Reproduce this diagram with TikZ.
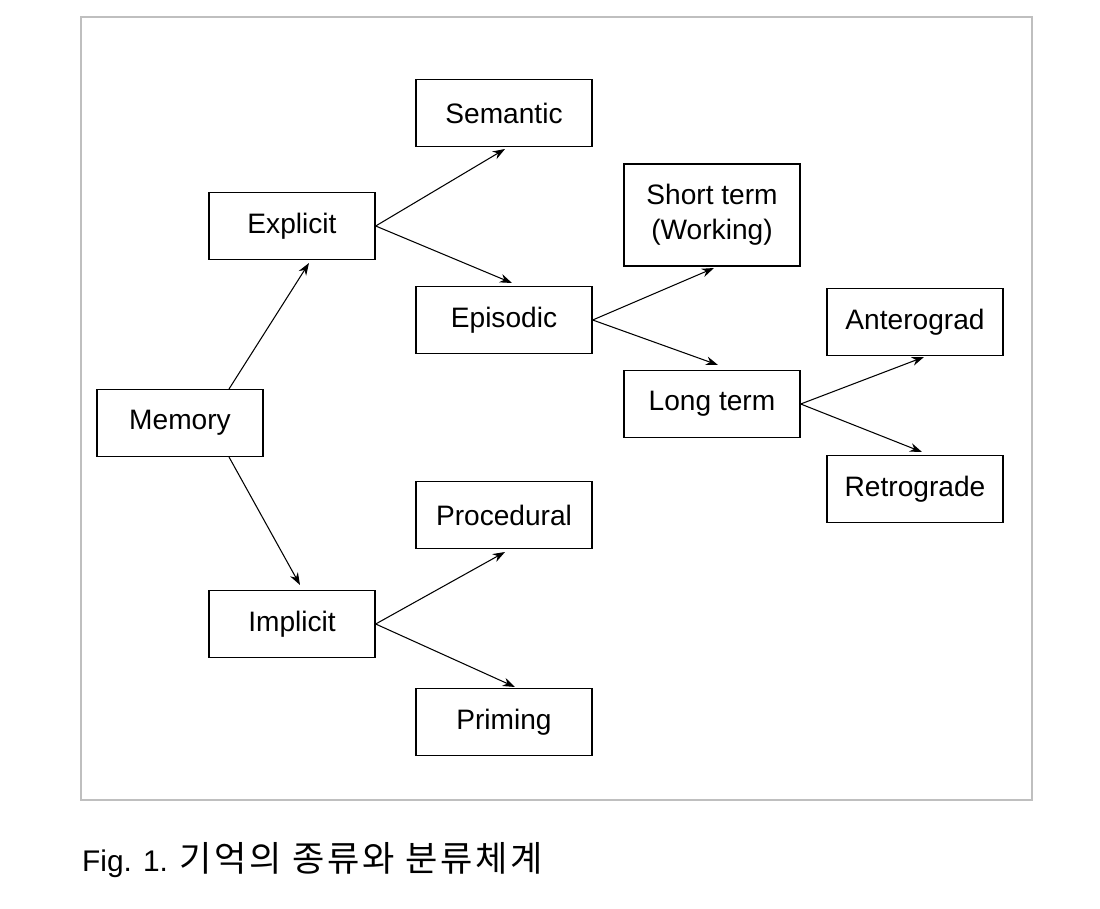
\documentclass[tikz,border=0pt]{standalone}
\usepackage{fontspec}
\setmainfont{Liberation Sans}
\newfontfamily\cjk[LetterSpace=8]{Noto Sans CJK KR}
\usetikzlibrary{arrows.meta}

\begin{document}
\begin{tikzpicture}[x=0.02cm, y=-0.02cm,
    box/.style={draw, thick, minimum width=3.52cm, minimum height=1.34cm, inner sep=0pt, font=\fontsize{16}{20}\selectfont},
    link/.style={-{Stealth[length=7pt, width=5pt]}, semithick}]
        \useasboundingbox (0,0) rectangle (1100,909);
        \draw[gray!50, thick] (81,17) rectangle (1032,800);

        \node[box, minimum width=3.32cm] (memory) at (180,423) {Memory};
        \node[box, minimum width=3.32cm] (explicit) at (292,226) {Explicit};
        \node[box, minimum width=3.32cm] (implicit) at (292,624) {Implicit};
        \node[box] (semantic) at (504,113) {Semantic};
        \node[box] (episodic) at (504,320) {Episodic};
        \node[box] (procedural) at (504,515) {Procedural};
        \node[box] (priming) at (504,722) {Priming};
        \node[box, minimum height=2.04cm, align=center] (short) at (712,215) {Short term\\(Working)};
        \node[box] (long) at (712,404) {Long term};
        \node[box] (antero) at (915,322) {Anterograd};
        \node[box] (retro) at (915,489) {Retrograde};

        \coordinate (m1) at (229,389);
        \coordinate (m2) at (229,457);
        \coordinate (t1) at (309,263);
        \coordinate (t2) at (300,585);
        \coordinate (t3) at (505,149);
        \coordinate (t4) at (512,283);
        \coordinate (t5) at (714,268);
        \coordinate (t6) at (718,365);
        \coordinate (t7) at (924,357);
        \coordinate (t8) at (922,452);
        \coordinate (t9) at (505,552);
        \coordinate (t10) at (515,687);

        \draw[link] (m1) -- (t1);
        \draw[link] (m2) -- (t2);
        \draw[link] (explicit.east) -- (t3);
        \draw[link] (explicit.east) -- (t4);
        \draw[link] (episodic.east) -- (t5);
        \draw[link] (episodic.east) -- (t6);
        \draw[link] (long.east) -- (t7);
        \draw[link] (long.east) -- (t8);
        \draw[link] (implicit.east) -- (t9);
        \draw[link] (implicit.east) -- (t10);

        \node[anchor=west, font=\fontsize{17}{20}\selectfont] (caption) at (76,860) {Fig. 1. {\cjk\fontsize{20}{22}\selectfont 기억의 종류와 분류체계}};
\end{tikzpicture}
\end{document}
